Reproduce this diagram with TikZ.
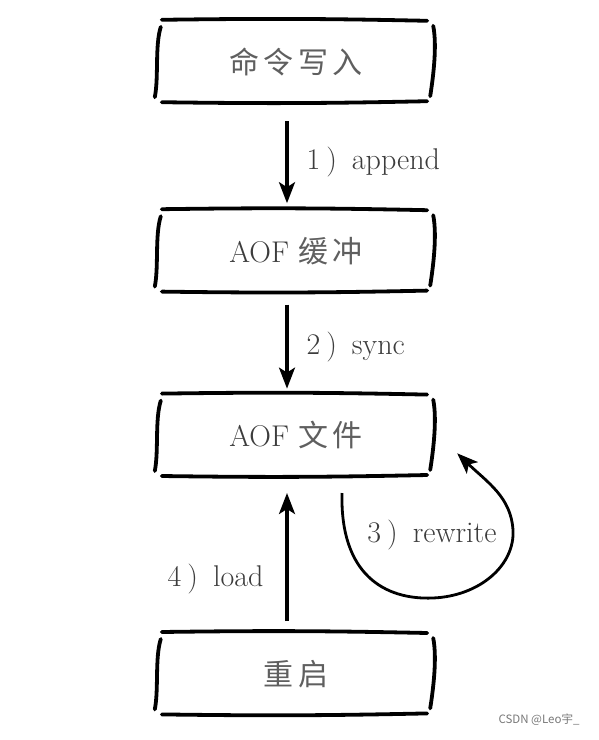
\documentclass[tikz,border=0pt]{standalone}
\usepackage{fontspec}
\usepackage{tikz}
\usepackage{xcolor}
\newfontfamily\cjk[LetterSpace=15]{Noto Sans CJK SC}
\newfontfamily\wmfont{Noto Sans CJK SC}
\definecolor{inkGray}{RGB}{60,60,60}
\definecolor{brushGray}{RGB}{95,95,95}
\definecolor{markGray}{RGB}{120,120,120}
\usetikzlibrary{arrows.meta,positioning}

% hand drawn frame: two long strokes and two bracket sides
\newcommand{\handframe}[1]{%
  \draw[stroke] ([xshift=5pt,yshift=1pt]#1.north west) to[bend left=1] ([xshift=-8pt]#1.north east);
  \draw[stroke] ([xshift=5pt]#1.south west) to[bend right=1] ([xshift=-8pt,yshift=1pt]#1.south east);
  \draw[stroke] ([xshift=4pt,yshift=-6pt]#1.north west)
    .. controls ([xshift=-2pt,yshift=-25pt]#1.north west) and ([xshift=2pt,yshift=25pt]#1.south west)
    .. ([xshift=-2pt,yshift=5pt]#1.south west);
  \draw[stroke] ([xshift=-2pt,yshift=-5pt]#1.north east)
    .. controls ([xshift=2pt,yshift=-25pt]#1.north east) and ([xshift=-2pt,yshift=25pt]#1.south east)
    .. ([xshift=-5pt,yshift=6pt]#1.south east);
}

\begin{document}
\begin{tikzpicture}[x=1pt, y=-1pt,
  box/.style={minimum width=278pt, minimum height=81pt, inner sep=0pt,
              text=inkGray, font=\fontsize{30}{36}\selectfont},
  stroke/.style={line width=3.8pt, line cap=round},
  flow/.style={line width=3.2pt, -{Stealth[length=21pt,width=16pt,inset=5pt]}},
  lbl/.style={font=\fontsize{30}{36}\selectfont, text=inkGray, inner sep=2pt}
]
  \useasboundingbox (0,0) rectangle (599,740);

  \node[box]                        (cmd)     at (296,61.5) {{\cjk\color{brushGray}命令写入}};
  \node[box, below=108pt of cmd]    (buf)     {AOF {\cjk\color{brushGray}缓冲}};
  \node[box, below=103pt of buf]    (file)    {AOF {\cjk\color{brushGray}文件}};
  \node[box, below=157pt of file]   (restart) {{\cjk\color{brushGray}重启}};

  \handframe{cmd}
  \handframe{buf}
  \handframe{file}
  \handframe{restart}

  \draw[flow] ([xshift=-9pt,yshift=-19pt]cmd.south) -- ([xshift=-9pt,yshift=7pt]buf.north)
    node[lbl, midway, right=16pt] (appendlbl) {1\hspace{0.2em})\hspace{0.5em}append};
  \draw[flow] ([xshift=-9pt,yshift=-13pt]buf.south) -- ([xshift=-9pt,yshift=6pt]file.north)
    node[lbl, midway, right=16pt] (synclbl) {2\hspace{0.2em})\hspace{0.5em}sync};
  \draw[flow] ([xshift=-9pt,yshift=12pt]restart.north) -- ([xshift=-9pt,yshift=-17pt]file.south)
    node[lbl, pos=0.33, left=20pt] (loadlbl) {4\hspace{0.2em})\hspace{0.5em}load};

  % rewrite loop back into the file
  \draw[flow, line width=2.8pt] ([xshift=46pt,yshift=-17pt]file.south)
    .. controls (340,575) and (385,600) .. (433,598)
    .. controls (480,596) and (515,565) .. (513,530)
    .. controls (511,497) and (487,482) .. ([xshift=22pt,yshift=-18pt]file.east);
  \node[lbl] (rwlbl) at (432,535) {3\hspace{0.2em})\hspace{0.5em}rewrite};

  \node[font=\wmfont\fontsize{11.5}{13}\selectfont, text=markGray] (mark) at (539,720) {CSDN @Leo宇\_};
\end{tikzpicture}
\end{document}
